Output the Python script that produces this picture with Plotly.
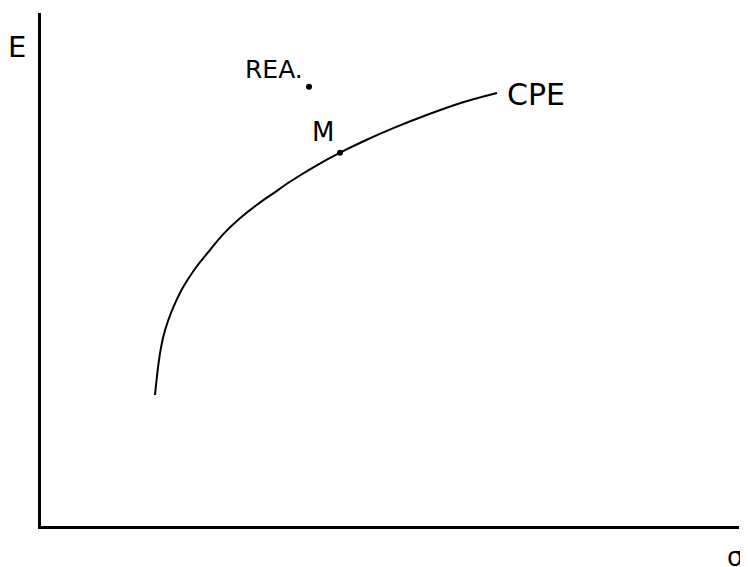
import plotly.graph_objects as go

# Efficient frontier curve (CPE) in arbitrary units (0-100 scale)
cpe_sigma = [16.33, 16.72, 17.05, 17.52, 18.24, 19.20, 20.39, 22.10, 24.21, 26.12,
             28.51, 30.90, 33.28, 35.67, 39.26, 42.84, 46.13, 50.47, 55.73, 60.46, 65.33]
cpe_E     = [25.54, 30.41, 33.66, 36.90, 40.16, 43.41, 46.65, 50.20, 53.80, 56.90,
             59.98, 62.57, 64.85, 67.10, 70.10, 72.77, 74.95, 77.55, 80.35, 82.60, 84.41]

# Named points
point_names = ["M", "REA."]
point_sigma = [42.84, 38.4]
point_E = [72.77, 85.6]

FONT = "DejaVu Sans"

fig = go.Figure()
fig.add_trace(go.Scatter(x=cpe_sigma, y=cpe_E, mode="lines",
                         line=dict(color="black", width=2, shape="spline", smoothing=1),
                         hoverinfo="skip", showlegend=False))
fig.add_trace(go.Scatter(x=point_sigma, y=point_E, mode="markers",
                         marker=dict(color="black", size=6),
                         hoverinfo="skip", showlegend=False))

def ann(size):
    return dict(showarrow=False, font=dict(family=FONT, size=size, color="black"))

# M label
fig.add_annotation(x=point_sigma[0], y=point_E[0], xref="x", yref="y",
                   text="M", xshift=-17, yshift=21, **ann(26))
# REA label
fig.add_annotation(x=point_sigma[1], y=point_E[1], xref="x", yref="y",
                   text="REA.", xshift=-35, yshift=17, **ann(25))
# CPE label
fig.add_annotation(x=cpe_sigma[-1], y=cpe_E[-1], xref="x", yref="y",
                   text="CPE", xanchor="left", xshift=8, yshift=-2, **ann(30))
# Axis labels
fig.add_annotation(x=-0.0344, y=0.934, xref="paper", yref="paper", text="E",
                   xanchor="center", yanchor="middle", **ann(29))
fig.add_annotation(x=0.98, y=-0.0604, xref="paper", yref="paper", text="σ",
                   xanchor="left", yanchor="middle", **ann(26))

axis_common = dict(showgrid=False, zeroline=False, showticklabels=False, ticks="",
                   showline=True, linecolor="black", linewidth=2.5)
fig.update_xaxes(range=[0, 100], **axis_common)
fig.update_yaxes(range=[0, 100], **axis_common)

fig.update_layout(width=748, height=567,
                  margin=dict(l=33, r=17, t=5, b=49),
                  plot_bgcolor="white", paper_bgcolor="white")

fig.write_html("out.html")
